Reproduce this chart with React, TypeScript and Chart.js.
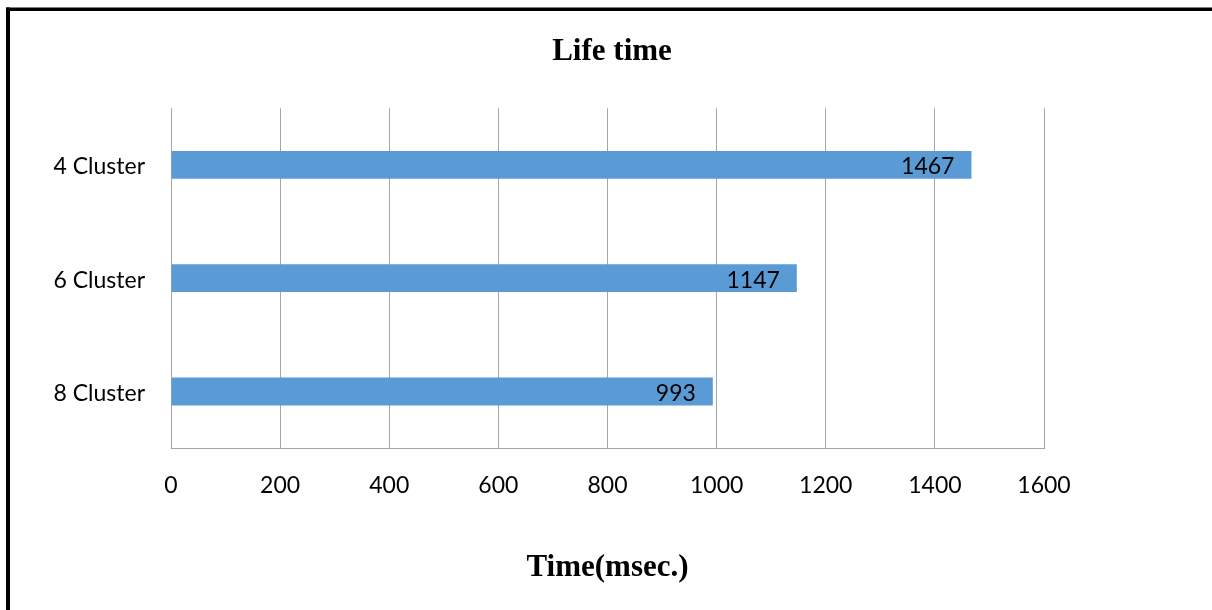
import React, { useEffect, useRef } from "react";
import { Chart, registerables } from "chart.js";

Chart.register(...registerables);

const categories = ["4 Cluster", "6 Cluster", "8 Cluster"];
const lifeTimes = [1467, 1147, 993];
const chartTitle = "Life time";
const xAxisTitle = "Time(msec.)";
const xMin = 0;
const xMax = 1600;
const xStep = 200;

const LABEL_FONT = "Lato";
const LABEL_SIZE = 23;
const barColor = "#5b9bd5";
const gridColor = "#a6a6a6";

const frameBorder = {
  id: "frameBorder",
  beforeDraw(chart: any) {
    const ctx = chart.ctx;
    ctx.save();
    ctx.fillStyle = "#000";
    ctx.fillRect(6, 7.5, chart.width, 3.5);
    ctx.fillRect(6, 7.5, 4, chart.height);
    ctx.restore();
  },
};

const valueLabels = {
  id: "valueLabels",
  afterDatasetsDraw(chart: any) {
    const ctx = chart.ctx;
    ctx.save();
    ctx.font = `${LABEL_SIZE}px ${LABEL_FONT}`;
    ctx.fillStyle = "#000";
    ctx.textAlign = "right";
    ctx.textBaseline = "middle";
    chart.data.datasets.forEach((ds: any, di: number) => {
      const meta = chart.getDatasetMeta(di);
      if (meta.hidden) return;
      meta.data.forEach((bar: any, i: number) => {
        ctx.fillText(String(ds.data[i]), bar.x - 17, bar.y + 2);
      });
    });
    ctx.restore();
  },
};

export default function App() {
  const canvasRef = useRef<HTMLCanvasElement | null>(null);

  useEffect(() => {
    if (!canvasRef.current) return;
    const chart = new Chart(canvasRef.current, {
      type: "bar",
      data: {
        labels: categories,
        datasets: [
          {
            data: lifeTimes,
            backgroundColor: barColor,
            borderWidth: 0,
            categoryPercentage: 1,
            barPercentage: 0.2456,
          },
        ],
      },
      options: {
        indexAxis: "y",
        animation: false,
        responsive: true,
        maintainAspectRatio: false,
        layout: { padding: { left: 12, right: 0, top: 0, bottom: 0 } },
        plugins: {
          legend: { display: false },
          tooltip: { enabled: false },
          title: {
            display: true,
            text: chartTitle,
            color: "#000",
            font: { family: "Liberation Serif", size: 31, weight: "bold" },
            padding: { top: 33, bottom: 38 },
          },
        },
        scales: {
          x: {
            type: "linear",
            min: xMin,
            max: xMax,
            ticks: {
              stepSize: xStep,
              color: "#000",
              font: { family: LABEL_FONT, size: LABEL_SIZE },
              padding: 24,
              maxRotation: 0,
              callback: (v: any) => String(v),
            },
            grid: { color: gridColor, lineWidth: 1, drawTicks: false },
            border: { display: true, color: gridColor, width: 1 },
            title: {
              display: true,
              text: xAxisTitle,
              color: "#000",
              font: { family: "Liberation Serif", size: 31, weight: "bold" },
              padding: { top: 26, bottom: 23 },
            },
          },
          y: {
            type: "category",
            ticks: {
              color: "#000",
              font: { family: LABEL_FONT, size: LABEL_SIZE },
              padding: 26,
              labelOffset: 2,
            },
            grid: { display: false, drawTicks: false },
            border: { display: true, color: gridColor, width: 1 },
            afterFit: (scale: any) => {
              scale.width = 159;
            },
          },
          spacer: {
            type: "linear",
            position: "right",
            min: 0,
            max: 1,
            ticks: { display: false },
            grid: { display: false, drawTicks: false },
            border: { display: false },
            afterFit: (scale: any) => {
              scale.width = 168;
            },
          },
        },
      },
      plugins: [frameBorder, valueLabels],
    });
    return () => chart.destroy();
  }, []);

  return (
    <div style={{ position: "fixed", left: 0, top: 0, width: 1212, height: 610, background: "#fff" }}>
      <canvas ref={canvasRef} />
    </div>
  );
}
